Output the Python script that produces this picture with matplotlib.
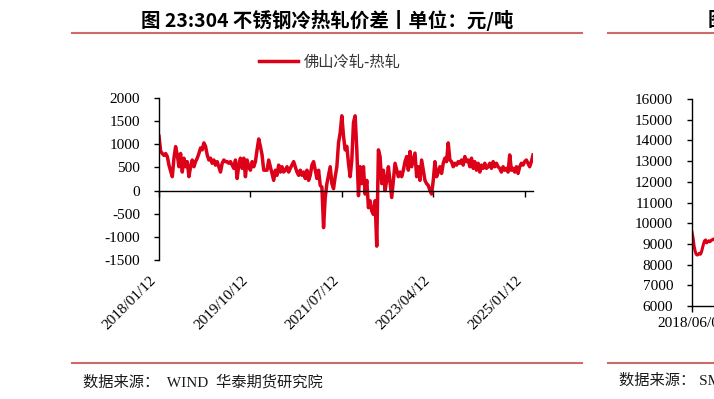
import matplotlib
matplotlib.use('Agg')
import matplotlib.pyplot as plt
import pandas as pd
from matplotlib.lines import Line2D
from matplotlib.font_manager import FontProperties

plt.rcParams['axes.unicode_minus'] = False

# ---------------- data ----------------
title = '图 23:304 不锈钢冷热轧价差丨单位：元/吨'
series_name = '佛山冷轧-热轧'
source = '数据来源：  WIND  华泰期货研究院'
start_date = '2018-01-12'
end_date = '2025-03-10'

spread = [
    1175, 850, 800, 760, 800, 735, 550, 420, 300, 700, 950, 770, 515, 800, 400,
    700, 515, 625, 300, 515, 660, 515, 625, 700, 800, 920, 880, 1030, 955, 770,
    660, 700, 590, 660, 550, 625, 515, 400, 590, 660, 625, 625, 590, 625, 550,
    480, 660, 260, 550, 700, 480, 700, 300, 660, 515, 440, 625, 515,
    625, 880, 1115, 955, 770, 440, 440, 440, 660, 515, 370, 220, 440, 330, 550,
    400, 515, 400, 440, 515, 400, 480, 550, 625, 515, 400, 330, 440, 330, 400,
    260, 440, 220, 330, 550, 625, 440, 260, 440, 110, 75, -800, -150, 150, 330,
    515, 150, 40, 300, 515, 1030, 1250, 1615, 1175, 880, 955, 590,
    300, 660, 1470, 1615, 880, -110, 515, 150, 515, -75, 220, -370, -220, -440,
    -515, -220, -1200, 880, 735, 150, 440, 0, 220, 515, 185, -150, 220, 590, 440,
    300, 400, 300, 440, 625, 735, 440, 845, 515, 660,
    810, 300, 515, 220, 660, 440, 220, 150, 110, 0, -75, 220, 625, 300, 400, 515,
    370, 590, 700, 625, 1030, 660, 625, 515, 590, 550, 625, 590, 660, 550, 735,
    625, 660, 515, 700, 480, 625, 440, 590, 400, 550, 480, 590, 480, 515, 590,
    480, 625, 515, 590, 515, 480, 400, 515, 440, 480, 400, 770, 440, 480, 400,
    515, 370, 515, 590, 550, 625, 660, 590, 515, 625, 770,
]
x_tick_labels = ['2018/01/12', '2019/10/12', '2021/07/12', '2023/04/12', '2025/01/12']
y_ticks = [-1500, -1000, -500, 0, 500, 1000, 1500, 2000]

right_title = '图'
right_source = '数据来源： SMM'
right_start = '2018-06-01'
right_values = [9560, 9300, 8900, 8650, 8500, 8460, 8500, 8550, 8500, 8600, 8800,
                9000, 9150, 9190, 9050, 9100, 9150, 9100, 9150, 9200, 9200, 9250,
                9250, 9300, 9350, 9300]
right_x_tick_labels = ['2018/06/01']
right_y_ticks = [6000, 7000, 8000, 9000, 10000, 11000, 12000, 13000, 14000, 15000, 16000]

# ---------------- style ----------------
W, H = 714, 399
RED = '#DC0018'
HDR = '#CD6A6A'
SERIF = 'Liberation Serif'
CJK = 'Noto Sans CJK SC'

def fx(px):
    return px / W

def fy(py):
    return 1 - py / H

fig = plt.figure(figsize=(W / 100, H / 100), dpi=100)

# ---------------- main chart ----------------
ax = fig.add_axes([fx(159), fy(260), (533 - 159) / W, (260 - 98) / H])
dates = pd.date_range(start_date, end_date, periods=len(spread))
line, = ax.plot(dates, spread, color=RED, lw=2.5, label=series_name)
ax.set_xlim(dates[0], dates[-1])
ax.set_ylim(y_ticks[0], y_ticks[-1])
ax.set_yticks(y_ticks)
ax.set_yticklabels([str(v) for v in y_ticks])
xt = pd.to_datetime(x_tick_labels, format='%Y/%m/%d')
ax.set_xticks(xt)
ax.set_xticklabels(x_tick_labels)
for s in ['top', 'right']:
    ax.spines[s].set_visible(False)
ax.spines['bottom'].set_position(('data', 0))
for s in ['left', 'bottom']:
    ax.spines[s].set_color('black')
    ax.spines[s].set_linewidth(1.0)
ax.tick_params(axis='x', direction='out', length=4, width=1, pad=56,
               labelsize=11, colors='black', labelrotation=45)
ax.tick_params(axis='y', direction='out', length=3.5, width=1, pad=10,
               labelsize=11, colors='black')
for lab in ax.get_xticklabels():
    lab.set_horizontalalignment('right')
    lab.set_rotation_mode('default')
for lab in ax.get_xticklabels() + ax.get_yticklabels():
    lab.set_fontfamily(SERIF)
ax.patch.set_alpha(0)

leg = ax.legend(handles=[line], loc='center',
                bbox_to_anchor=(fx(329.5), fy(62)), bbox_transform=fig.transFigure,
                frameon=False, handlelength=2.6, handletextpad=0.35,
                prop=FontProperties(family=CJK, size=11))
for t in leg.get_texts():
    t.set_color('#333333')

fig.text(fx(327.5), fy(20.5), title, ha='center', va='center',
         fontsize=14, fontweight='bold', family=CJK, color='black')
fig.add_artist(Line2D([fx(72), fx(582)], [fy(33.3), fy(33.3)],
                      transform=fig.transFigure, color=HDR, lw=1.5))
fig.add_artist(Line2D([fx(72), fx(582)], [fy(363.3), fy(363.3)],
                      transform=fig.transFigure, color=HDR, lw=1.5))
fig.text(fx(83), fy(382), source, ha='left', va='center', fontsize=11,
         family=[SERIF, CJK], color='#1a1a1a')

# ---------------- partial right chart (cut by the page edge) ----------------
ax2 = fig.add_axes([fx(692), fy(306), 374 / W, (306 - 99) / H])
rdates = pd.date_range(right_start, periods=len(right_values), freq='7D')
ax2.plot(rdates, right_values, color=RED, lw=2.2)
ax2.set_xlim(pd.Timestamp(right_start), pd.Timestamp(right_start) + pd.Timedelta(days=2500))
ax2.set_ylim(right_y_ticks[0], right_y_ticks[-1])
ax2.set_yticks(right_y_ticks)
ax2.set_yticklabels([str(v) for v in right_y_ticks])
ax2.set_xticks(pd.to_datetime(right_x_tick_labels, format='%Y/%m/%d'))
ax2.set_xticklabels(right_x_tick_labels)
for s in ['top', 'right']:
    ax2.spines[s].set_visible(False)
for s in ['left', 'bottom']:
    ax2.spines[s].set_color('black')
    ax2.spines[s].set_linewidth(1.0)
ax2.tick_params(axis='x', direction='out', length=4, width=1, pad=4, labelsize=11)
ax2.tick_params(axis='y', direction='out', length=3.5, width=1, pad=10, labelsize=11)
for lab in ax2.get_xticklabels() + ax2.get_yticklabels():
    lab.set_fontfamily(SERIF)
ax2.patch.set_alpha(0)

fig.text(fx(708), fy(20.5), right_title, ha='left', va='center',
         fontsize=14, fontweight='bold', family=CJK, color='black')
fig.add_artist(Line2D([fx(608), 1.0], [fy(33.3), fy(33.3)],
                      transform=fig.transFigure, color=HDR, lw=1.5))
fig.add_artist(Line2D([fx(608), 1.0], [fy(363.3), fy(363.3)],
                      transform=fig.transFigure, color=HDR, lw=1.5))
fig.text(fx(619), fy(381), right_source, ha='left', va='center', fontsize=11,
         family=[SERIF, CJK], color='#1a1a1a')

fig.savefig('out.png', dpi=100)
